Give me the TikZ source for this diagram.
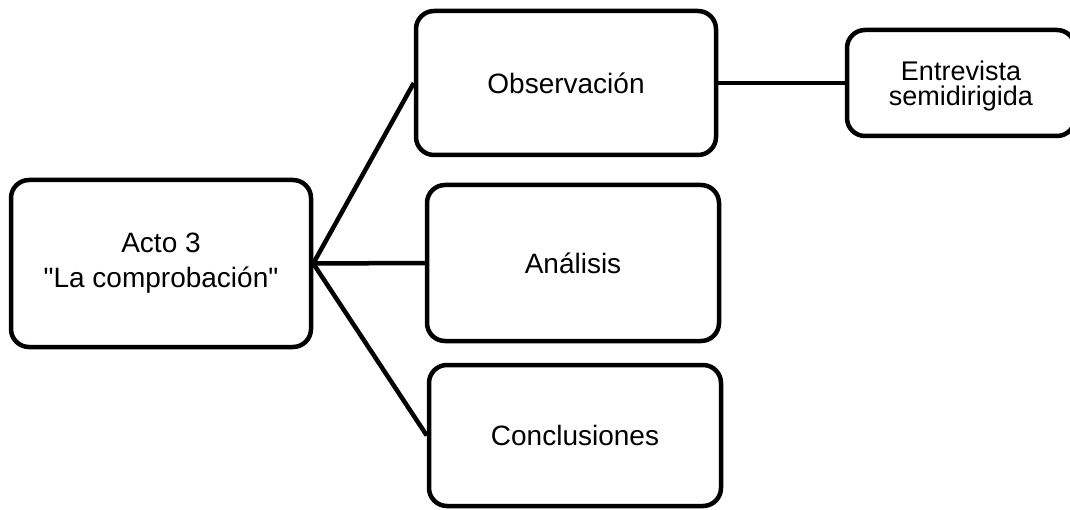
\documentclass[tikz,border=0pt]{standalone}
\usepackage{fontspec}
\setmainfont{Liberation Sans}
\usetikzlibrary{positioning}

% straight double quote, not turned into a curly one
\newcommand{\dq}{\XeTeXglyph\XeTeXcharglyph"22\relax}

\begin{document}
\begin{tikzpicture}[x=1pt, y=-1pt, line width=4.5pt,
	box/.style={draw, rounded corners=18pt, align=center, inner sep=0pt, font=\fontsize{28}{30}\selectfont}]

		\useasboundingbox (0,0) rectangle (1070,510);

		%the act
		\node[box, font=\fontsize{28}{35}\selectfont, minimum width=300pt, minimum height=167pt] (acto) at (161,263.5) {Acto 3\\\dq La comprobación\dq};

		%the three steps
		\node[box, minimum width=300pt, minimum height=144pt] (obs) at (566,83) {Observación};
		\node[box, minimum width=292pt, minimum height=156pt] (ana) at (573,263) {Análisis};
		\node[box, minimum width=292pt, minimum height=141pt] (con) at (575,435.5) {Conclusiones};

		% the tool used for the observation
		\node[box, font=\fontsize{27}{25}\selectfont, minimum width=228pt, minimum height=106pt, text depth=0pt] (ent) at (961,83) {Entrevista\\semidirigida};

		\draw (acto.east) -- (obs.west);
		\draw (acto.east) -- (ana.west);
		\draw (acto.east) -- (con.west);
		\draw (obs.east) -- (ent.west);

	\end{tikzpicture}
\end{document}
